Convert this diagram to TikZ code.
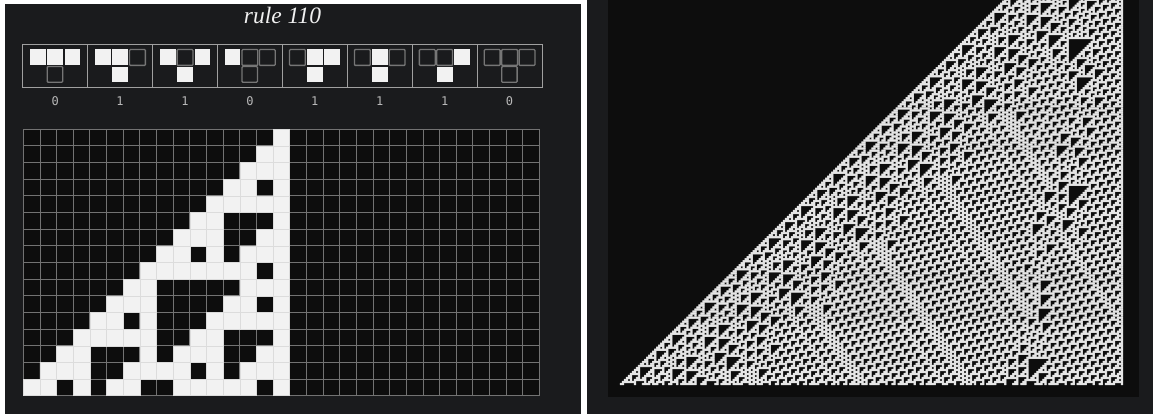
\documentclass[tikz,border=0pt]{standalone}
\usepackage{fontspec}
\setmainfont{Liberation Serif}
\newfontfamily\labelfont{DejaVu Sans Mono}
\definecolor{panelbg}{HTML}{1A1B1D}
\definecolor{cellblack}{HTML}{0D0D0D}
\definecolor{cellwhite}{HTML}{F2F2F2}
\definecolor{gridgray}{HTML}{727272}
\definecolor{cellseam}{HTML}{DCDCDC}
\definecolor{boxgray}{HTML}{A0A0A0}
\definecolor{emptygray}{HTML}{767676}
\definecolor{labelgray}{HTML}{B8B8B8}
\definecolor{titlewhite}{HTML}{F0F0F0}
\definecolor{patternwhite}{HTML}{F4F4F4}
\newcount\CAr \newcount\CAc \newcount\CAn
\newdimen\CAx \newdimen\CAy \newdimen\CAw \newdimen\CAs \newdimen\CAxo \newdimen\CAyo
\expandafter\def\csname r111\endcsname{0}
\expandafter\def\csname r110\endcsname{1}
\expandafter\def\csname r101\endcsname{1}
\expandafter\def\csname r100\endcsname{0}
\expandafter\def\csname r011\endcsname{1}
\expandafter\def\csname r010\endcsname{1}
\expandafter\def\csname r001\endcsname{1}
\expandafter\def\csname r000\endcsname{0}
\expandafter\def\csname r00e\endcsname{}
\expandafter\def\csname r10e\endcsname{}
\def\CAgob#1#2#3{}
\def\CAnx#1#2#3{\csname r#1#2#3\endcsname\ifx e#3\expandafter\CAgob\fi\CAnx{#2}{#3}}
\def\CAcell{%
  \CAx=\CAs \multiply\CAx\CAc \advance\CAx\CAxo
  \CAy=\CAs \multiply\CAy\CAr \advance\CAy\CAs \advance\CAy\CAyo \CAy=-\CAy
  \pgfpathrectangle{\pgfqpoint{\CAx}{\CAy}}{\pgfqpoint{\CAw}{\CAw}}}
\def\CAscan#1{\ifx e#1\else\if 1#1\CAcell\fi\advance\CAc 1 \expandafter\CAscan\fi}
% #1 cells/rows, #2 x0, #3 y0, #4 cell size, #5 drawn size, #6 path use
\def\CArun#1#2#3#4#5#6{%
  \CAn=#1 \CAxo=#2pt \CAyo=#3pt \CAs=#4pt \CAw=#5pt
  \def\CArow{1}\CAr=1
  \loop\ifnum\CAr<\CAn \edef\CArow{0\CArow}\advance\CAr 1 \repeat
  \CAr=0
  \loop\ifnum\CAr<\CAn
    \begingroup
    \CAc=0 \expandafter\CAscan\CArow e%
    \pgfusepath{#6}%
    \endgroup
    \edef\CArow{\expandafter\CAnx\expandafter0\CArow 0e}%
    \advance\CAr 1
  \repeat}
\tikzset{
  panel/.style={fill=panelbg,draw=none},
  inner panel/.style={fill=cellblack,draw=none},
  gridline/.style={draw=gridgray,line width=0.9pt},
  rulebox/.style={draw=boxgray,line width=1pt},
  fullcell/.style={fill=cellwhite,draw=none},
  emptycell/.style={draw=emptygray,line width=1.3pt,rounded corners=0.8pt},
  rulelabel/.style={text=labelgray,font=\labelfont\fontsize{12}{12}\selectfont,inner sep=0pt},
  titletext/.style={text=titlewhite,font=\itshape\fontsize{23.5}{24}\selectfont,inner sep=0pt}
}
\newcommand{\RuleCase}[6]{% index, left, mid, right, output, label
  \pgfmathsetmacro{\bx}{22.7+64.92*#1}
  \pgfmathsetmacro{\cx}{\bx+32.46}
  \draw[rulebox] (\bx,44.3) rectangle ++(64.92,43.7);
  \foreach \k/\v in {-1/#2,0/#3,1/#4}{
    \ifnum\v=1
      \fill[fullcell] (\cx+\k*17.4-7.9,49.4) rectangle ++(15.8,15.8);
    \else
      \draw[emptycell] (\cx+\k*17.4-7.9,49.6) rectangle ++(15.8,15.8);
    \fi}
  \ifnum#5=1
    \fill[fullcell] (\cx-7.9,66.6) rectangle ++(15.8,15.8);
  \else
    \draw[emptycell] (\cx-7.9,66.6) rectangle ++(15.4,15.6);
  \fi
  \node[rulelabel] (label#1) at (\cx,101) {#6};
}
\begin{document}
\begin{tikzpicture}[x=1pt,y=-1pt]
\useasboundingbox (0,0) rectangle (1153,414);
\fill[white] (0,0) rectangle (1153,414);
% left panel
\fill[panel] (5,4) rectangle (581,414);
\node[titletext] (title) at (282.5,15) {rule 110};
\RuleCase{0}{1}{1}{1}{0}{0}
\RuleCase{1}{1}{1}{0}{1}{1}
\RuleCase{2}{1}{0}{1}{1}{1}
\RuleCase{3}{1}{0}{0}{0}{0}
\RuleCase{4}{0}{1}{1}{1}{1}
\RuleCase{5}{0}{1}{0}{1}{1}
\RuleCase{6}{0}{0}{1}{1}{1}
\RuleCase{7}{0}{0}{0}{0}{0}
% grid
\fill[inner panel] (23.3,129.3) rectangle (539.5,395.7);
\foreach \i in {0,...,31}{\draw[gridline] (23.3+\i*16.652,129.3) -- (23.3+\i*16.652,395.7);}
\foreach \j in {0,...,16}{\draw[gridline] (23.3,129.3+\j*16.65) -- (539.5,129.3+\j*16.65);}
\begin{scope}
\pgfsetfillcolor{cellwhite}\pgfsetstrokecolor{cellseam}\pgfsetlinewidth{0.5pt}
\CArun{16}{23.3}{129.3}{16.65}{16.65}{fill,stroke}
\end{scope}
% right panel
\fill[panel] (587.3,0) rectangle (1153,414);
\fill[inner panel] (608,0) rectangle (1139,397);
\begin{scope}
\clip (608,0) rectangle (1139,397);
\pgfsetfillcolor{patternwhite}
\pgfsetfillopacity{0.5}
\CArun{250}{619.85}{-118.15}{2.012}{1.95}{fill}
\CArun{250}{620.15}{-118.15}{2.012}{1.95}{fill}
\CArun{250}{619.85}{-117.85}{2.012}{1.95}{fill}
\CArun{250}{620.15}{-117.85}{2.012}{1.95}{fill}
\end{scope}
\end{tikzpicture}
\end{document}
